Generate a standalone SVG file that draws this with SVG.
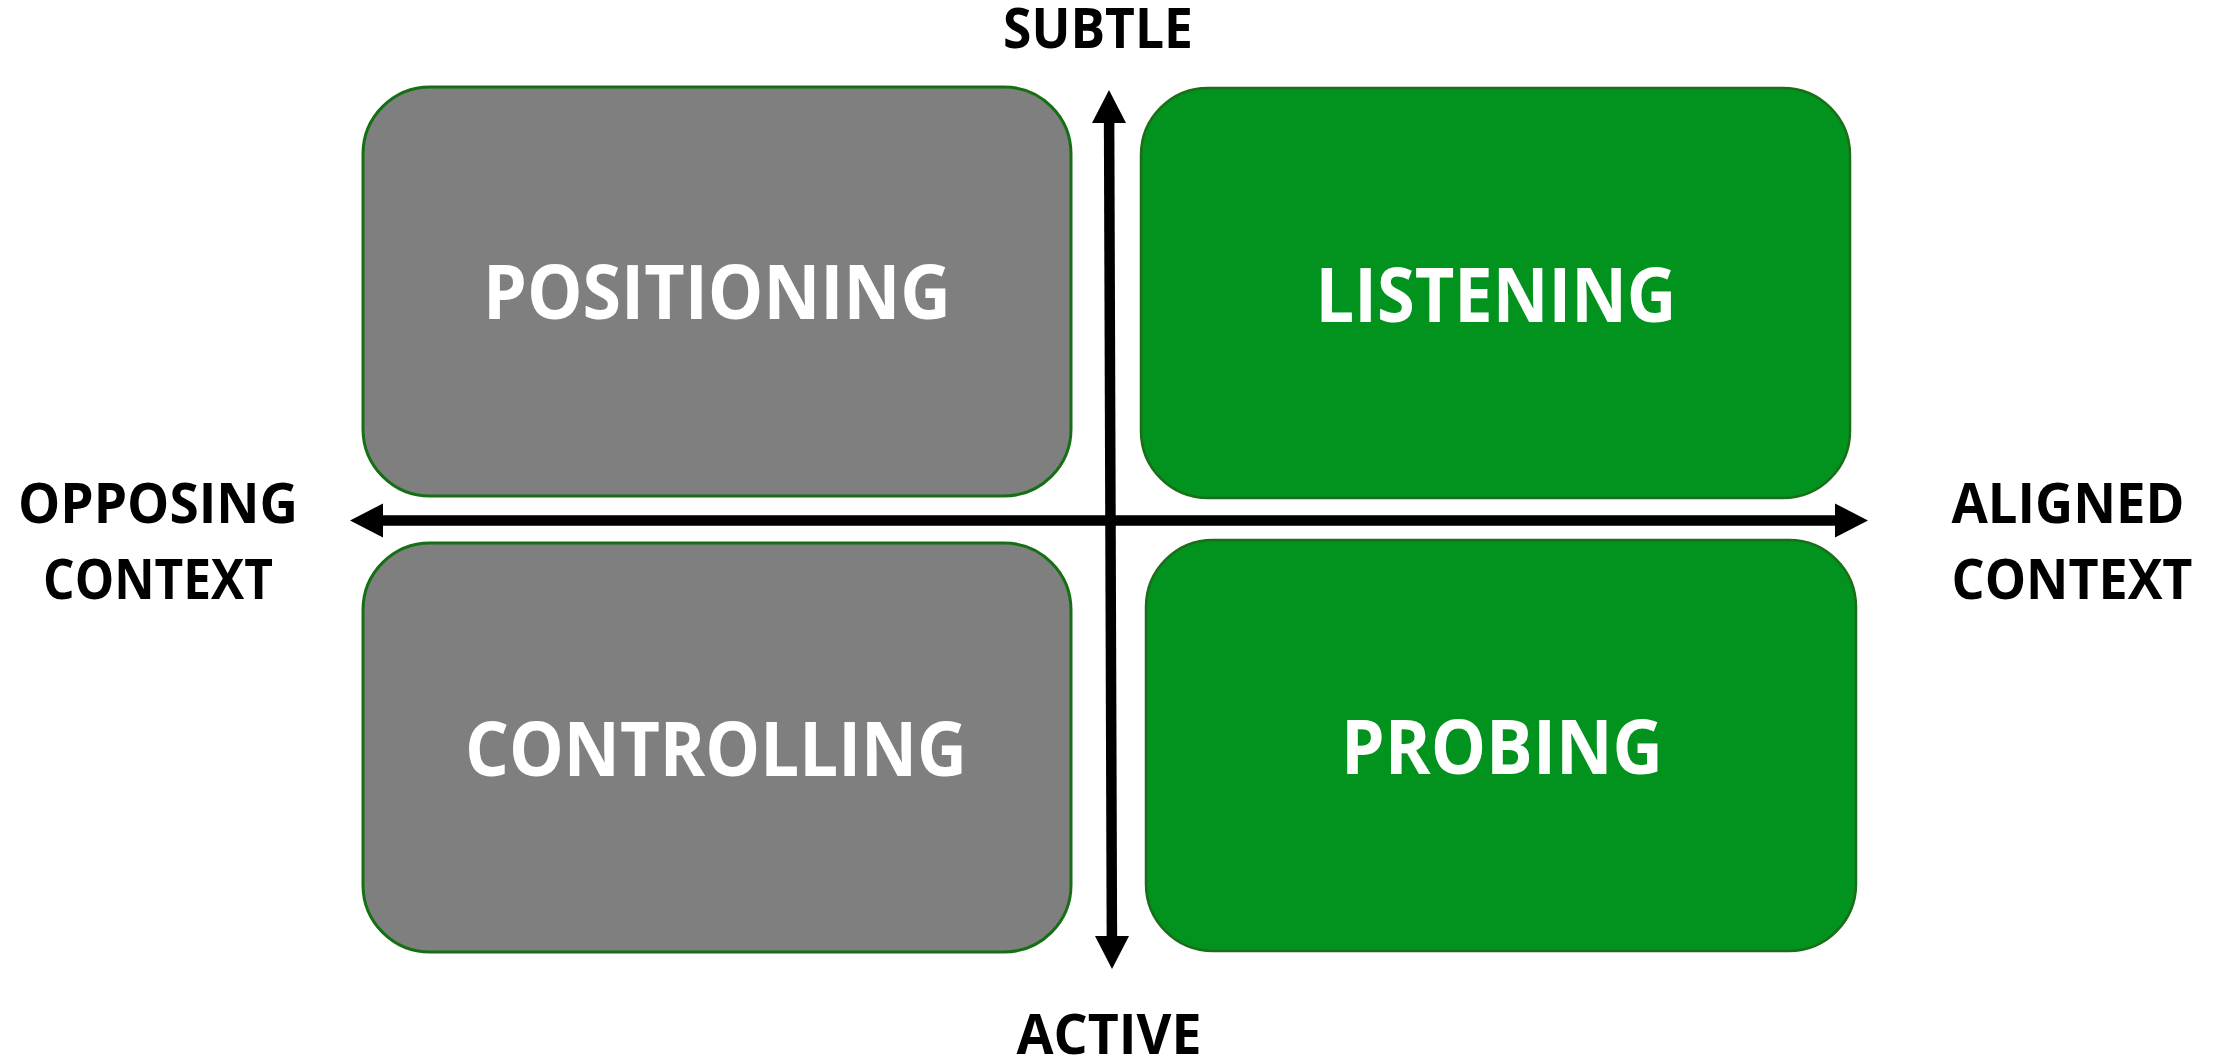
<svg xmlns="http://www.w3.org/2000/svg" width="2218" height="1060" viewBox="0 0 2218 1060">
  <style>
    .box-gray { fill: #7f7f7f; stroke: #157015; stroke-width: 3; }
    .box-green { fill: #02921e; stroke: #1a6e1a; stroke-width: 2.5; }
    .quad { font-family: "Open Sans", Lato, "Liberation Sans", sans-serif; font-weight: 700; font-size: 76px; fill: #ffffff; text-anchor: middle; }
    .axis-label { font-family: "Open Sans", Lato, "Liberation Sans", sans-serif; font-weight: 700; font-size: 56px; fill: #000000; text-anchor: middle; }
    .axis { stroke: #000000; stroke-width: 10.5; fill: none; }
    .head { fill: #000000; }
  </style>

  <rect width="2218" height="1060" fill="#ffffff"/>

  <g id="node-positioning">
    <rect class="box-gray" x="363" y="87" width="708" height="409" rx="67" ry="67"/>
    <text class="quad" x="717" y="319" textLength="468" lengthAdjust="spacingAndGlyphs">POSITIONING</text>
  </g>

  <g id="node-listening">
    <rect class="box-green" x="1141" y="88" width="709" height="410" rx="67" ry="67"/>
    <text class="quad" x="1496" y="321.5" textLength="361" lengthAdjust="spacingAndGlyphs">LISTENING</text>
  </g>

  <g id="node-controlling">
    <rect class="box-gray" x="363" y="543" width="708" height="409" rx="67" ry="67"/>
    <text class="quad" x="716" y="776" textLength="502" lengthAdjust="spacingAndGlyphs">CONTROLLING</text>
  </g>

  <g id="node-probing">
    <rect class="box-green" x="1146" y="540" width="710" height="411" rx="67" ry="67"/>
    <text class="quad" x="1502" y="774" textLength="322" lengthAdjust="spacingAndGlyphs">PROBING</text>
  </g>

  <g id="connectors">
    <!-- horizontal axis: opposing to aligned context -->
    <line class="axis" x1="382" y1="520.5" x2="1836" y2="520.5"/>
    <polygon class="head" points="350,520.5 383,503.5 383,537.5"/>
    <polygon class="head" points="1868,520.5 1835,503.5 1835,537.5"/>
    <!-- vertical axis: subtle to active -->
    <line class="axis" x1="1109.1" y1="121" x2="1111.9" y2="938"/>
    <polygon class="head" points="1109,90 1092,123 1126,123"/>
    <polygon class="head" points="1112,969 1095,936 1129,936"/>
  </g>

  <g id="axis-labels">
    <text class="axis-label" x="1098" y="48" textLength="190" lengthAdjust="spacingAndGlyphs">SUBTLE</text>
    <text class="axis-label" x="1109" y="1054" textLength="185" lengthAdjust="spacingAndGlyphs">ACTIVE</text>
    <text class="axis-label" x="158" y="522.5" textLength="280" lengthAdjust="spacingAndGlyphs">OPPOSING</text>
    <text class="axis-label" x="158" y="599" textLength="230" lengthAdjust="spacingAndGlyphs">CONTEXT</text>
    <text class="axis-label" x="2068" y="522.5" textLength="233" lengthAdjust="spacingAndGlyphs">ALIGNED</text>
    <text class="axis-label" x="2072" y="599" textLength="241" lengthAdjust="spacingAndGlyphs">CONTEXT</text>
  </g>
</svg>
